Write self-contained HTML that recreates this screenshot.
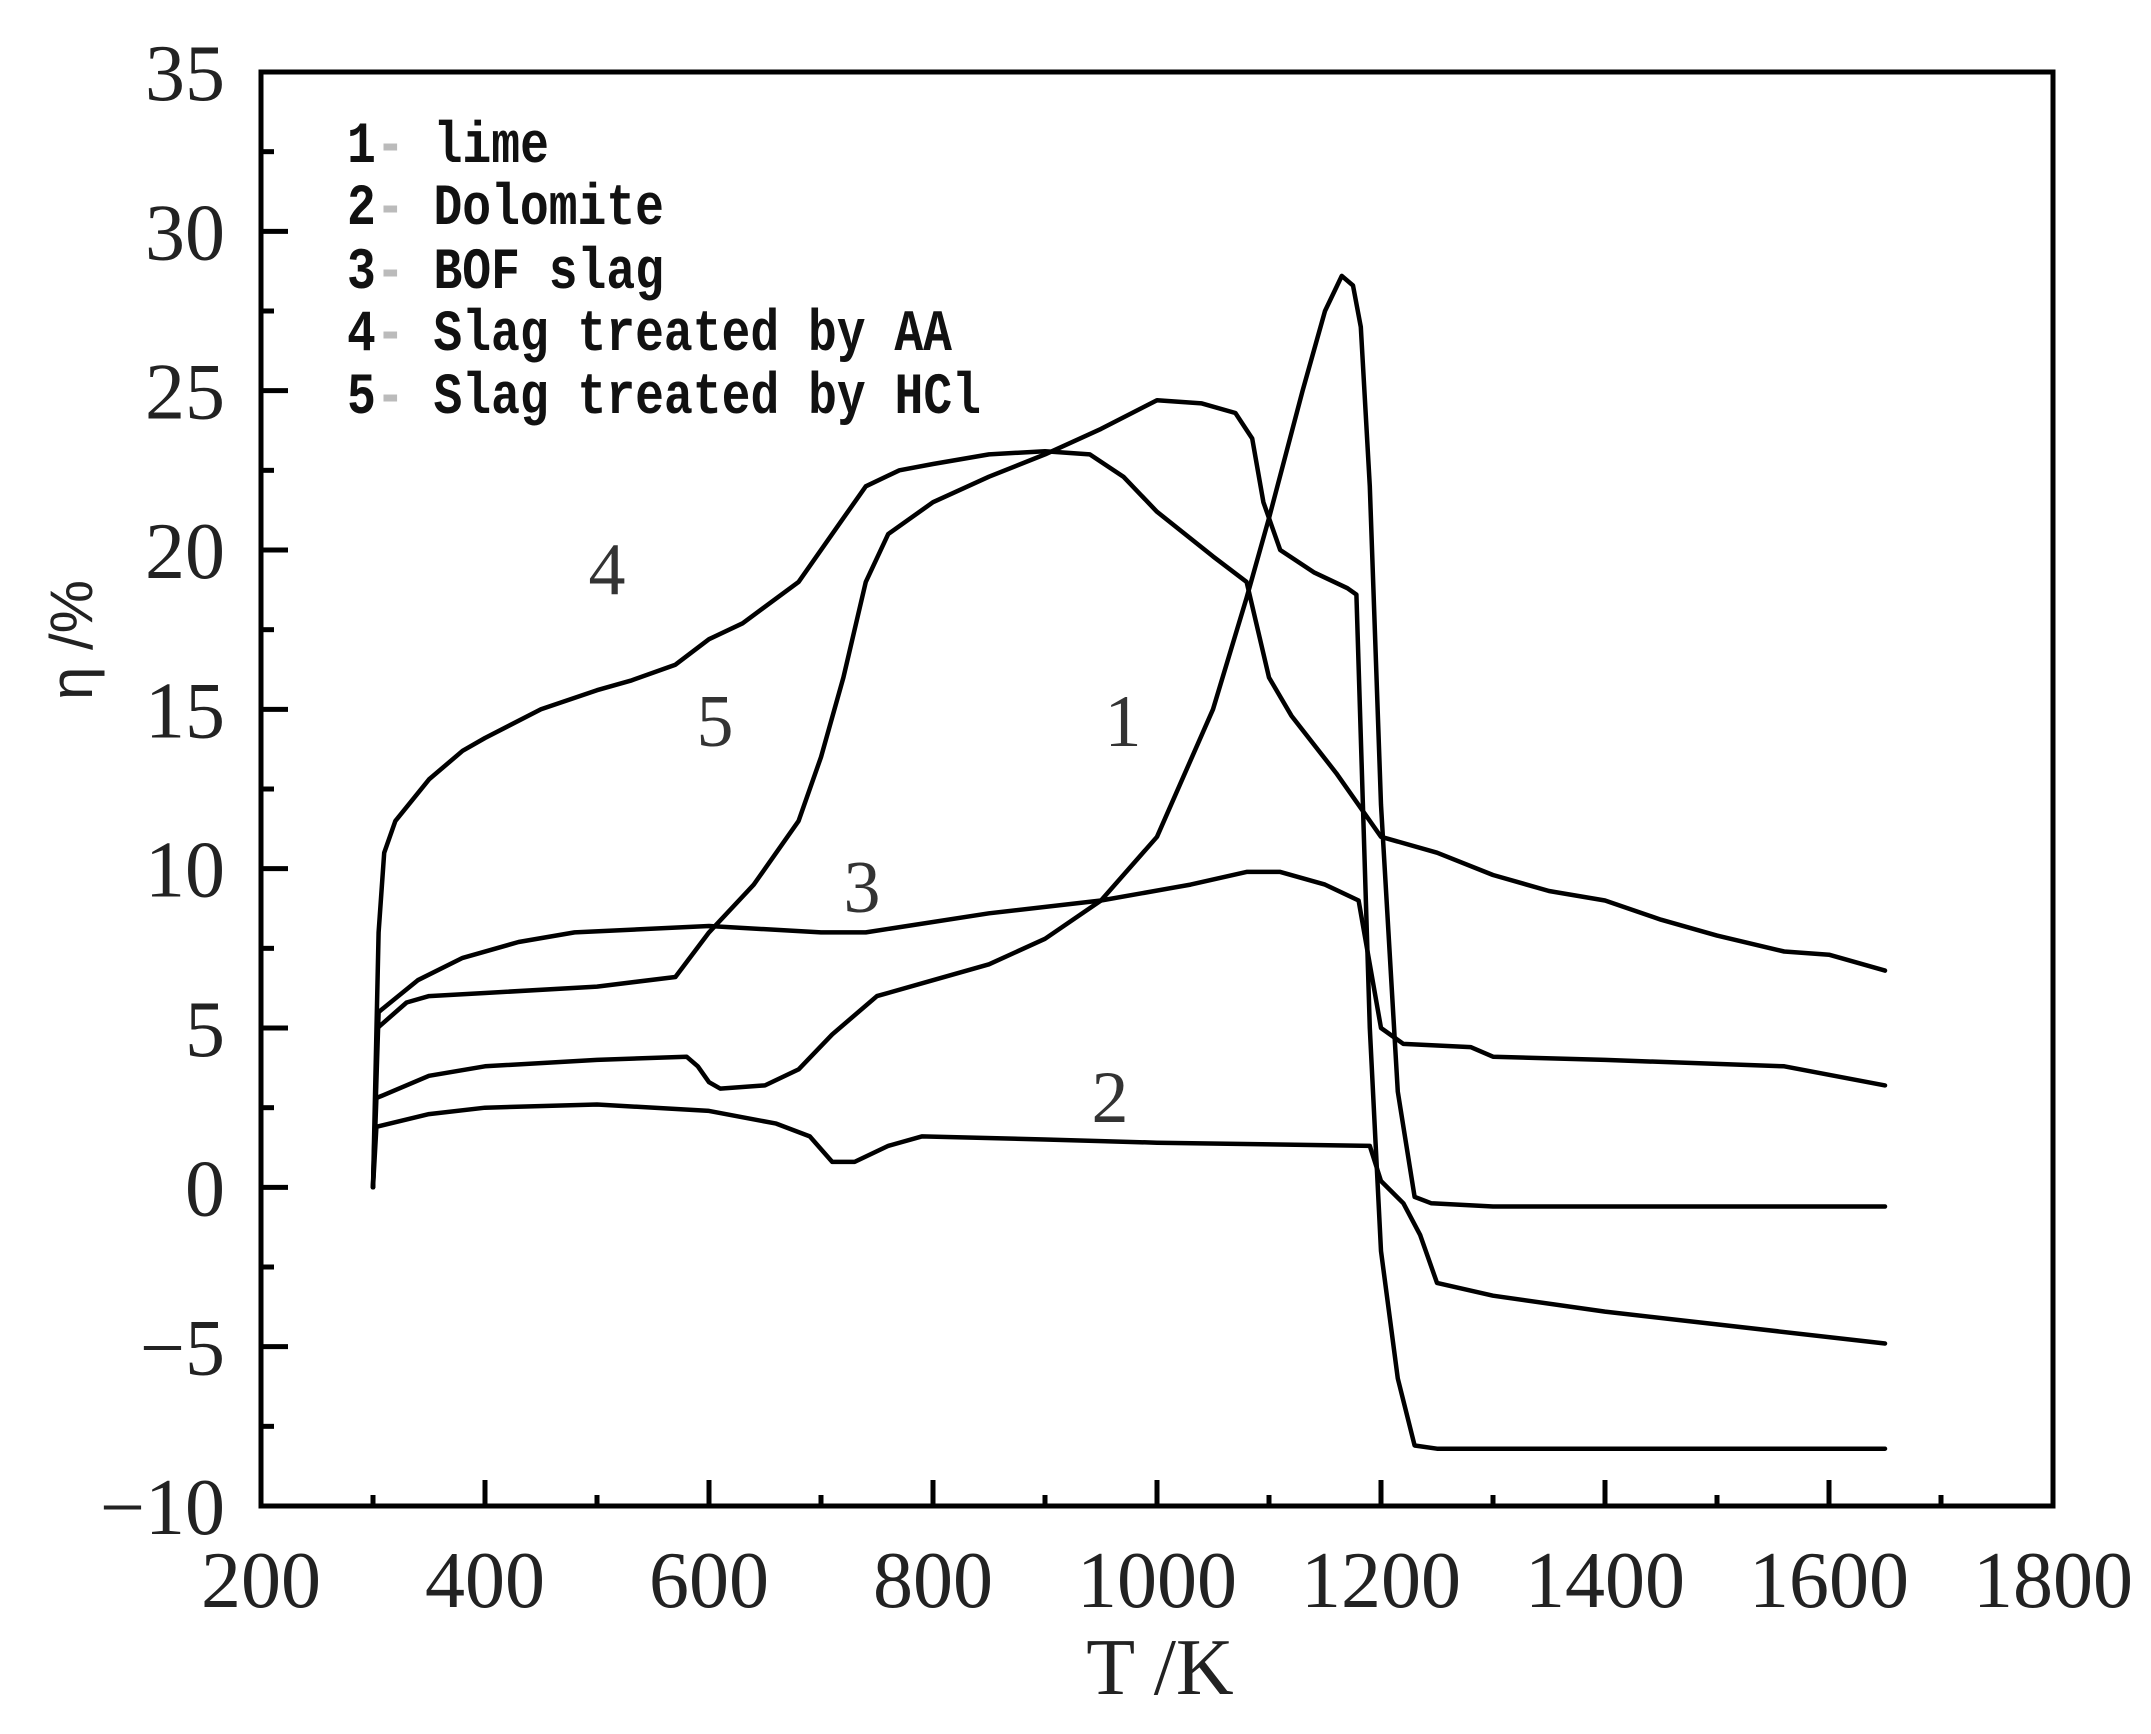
<!DOCTYPE html>
<html><head><meta charset="utf-8"><style>
html,body{margin:0;padding:0;background:#fff;}
svg{display:block;}
</style></head><body>
<svg id="s" width="2151" height="1734" viewBox="0 0 2151 1734" xmlns="http://www.w3.org/2000/svg">
<rect width="2151" height="1734" fill="#fff"/>
<g id="curves" fill="none" stroke="#000" stroke-width="4.5" stroke-linejoin="round" stroke-linecap="round"></g>
<rect x="261" y="72" width="1792" height="1434" fill="none" stroke="#000" stroke-width="5"/>
<g id="ticks" stroke="#000" stroke-width="5"></g>
<g font-family="'Liberation Serif', serif" font-size="80" fill="#222" id="labels"></g>
<g font-family="'Liberation Mono', monospace" font-size="58" fill="#111" font-weight="bold" lengthAdjust="spacingAndGlyphs">
<text x="347" y="162" textLength="202" lengthAdjust="spacingAndGlyphs">1<tspan fill="#bbb">-</tspan> lime</text>
<text x="347" y="224" textLength="317" lengthAdjust="spacingAndGlyphs">2<tspan fill="#bbb">-</tspan> Dolomite</text>
<text x="347" y="288" textLength="317" lengthAdjust="spacingAndGlyphs">3<tspan fill="#bbb">-</tspan> BOF slag</text>
<text x="347" y="350" textLength="605" lengthAdjust="spacingAndGlyphs">4<tspan fill="#bbb">-</tspan> Slag treated by AA</text>
<text x="347" y="413" textLength="634" lengthAdjust="spacingAndGlyphs">5<tspan fill="#bbb">-</tspan> Slag treated by HCl</text>
</g>
<g font-family="'Liberation Serif', serif" font-size="74" fill="#333">
<text x="607" y="594" text-anchor="middle">4</text>
<text x="715" y="746" text-anchor="middle">5</text>
<text x="1123" y="746" text-anchor="middle">1</text>
<text x="862" y="912" text-anchor="middle">3</text>
<text x="1110" y="1122" text-anchor="middle">2</text>
</g>
<text x="1160" y="1694" text-anchor="middle" font-family="'Liberation Serif', serif" font-size="80" fill="#222">T /K</text>
<text transform="translate(92,640) rotate(-90)" text-anchor="middle" font-family="'Liberation Sans', sans-serif" font-size="60" fill="#222">η /%</text>
</svg>
<script>
var NS="http://www.w3.org/2000/svg";
function X(t){return 261+(t-200)*1.12;}
function Y(v){return 72+(35-v)*31.867;}
var data=[
[[300,0],[303,2.8],[350,3.5],[400,3.8],[500,4.0],[580,4.1],[590,3.8],[600,3.3],[610,3.1],[650,3.2],[680,3.7],[710,4.8],[750,6],[800,6.5],[850,7],[900,7.8],[950,9],[1000,11],[1050,15],[1080,18.5],[1100,21],[1130,25],[1150,27.5],[1165,28.6],[1175,28.3],[1182,27],[1190,22],[1200,12],[1215,3],[1230,-0.3],[1245,-0.5],[1300,-0.6],[1650,-0.6]],
[[300,0],[303,1.9],[350,2.3],[400,2.5],[500,2.6],[600,2.4],[660,2.0],[690,1.6],[710,0.8],[730,0.8],[760,1.3],[790,1.6],[900,1.5],[1000,1.4],[1190,1.3],[1200,0.2],[1220,-0.5],[1235,-1.5],[1250,-3],[1300,-3.4],[1400,-3.9],[1500,-4.3],[1650,-4.9]],
[[300,0],[305,5.5],[340,6.5],[380,7.2],[430,7.7],[480,8.0],[600,8.2],[700,8.0],[740,8.0],[850,8.6],[950,9],[1030,9.5],[1080,9.9],[1110,9.9],[1150,9.5],[1180,9],[1190,7],[1200,5],[1220,4.5],[1280,4.4],[1300,4.1],[1400,4],[1560,3.8],[1650,3.2]],
[[300,0],[305,8],[310,10.5],[320,11.5],[350,12.8],[380,13.7],[400,14.1],[450,15],[500,15.6],[530,15.9],[570,16.4],[600,17.2],[630,17.7],[680,19],[720,21],[740,22],[770,22.5],[800,22.7],[850,23],[900,23.1],[940,23],[970,22.3],[1000,21.2],[1050,19.8],[1080,19],[1100,16],[1120,14.8],[1160,13],[1200,11],[1250,10.5],[1300,9.8],[1350,9.3],[1400,9],[1450,8.4],[1500,7.9],[1560,7.4],[1600,7.3],[1650,6.8]],
[[300,0],[304,5],[330,5.8],[350,6],[400,6.1],[500,6.3],[570,6.6],[600,8],[640,9.5],[680,11.5],[700,13.5],[720,16],[740,19],[760,20.5],[800,21.5],[850,22.3],[900,23],[950,23.8],[1000,24.7],[1040,24.6],[1070,24.3],[1085,23.5],[1095,21.5],[1110,20],[1140,19.3],[1170,18.8],[1178,18.6],[1190,5],[1200,-2],[1215,-6],[1230,-8.1],[1250,-8.2],[1650,-8.2]]
];
var g=document.getElementById("curves");
data.forEach(function(c){var d="";c.forEach(function(p,i){d+=(i?"L":"M")+X(p[0]).toFixed(1)+","+Y(p[1]).toFixed(1);});
var p=document.createElementNS(NS,"path");p.setAttribute("d",d);g.appendChild(p);});
var tk=document.getElementById("ticks"),lb=document.getElementById("labels");
function line(x1,y1,x2,y2){var l=document.createElementNS(NS,"line");l.setAttribute("x1",x1);l.setAttribute("y1",y1);l.setAttribute("x2",x2);l.setAttribute("y2",y2);tk.appendChild(l);}
function txt(x,y,s,a){var t=document.createElementNS(NS,"text");t.setAttribute("x",x);t.setAttribute("y",y);t.setAttribute("text-anchor",a);t.textContent=s;lb.appendChild(t);}
for(var t=200;t<=1800;t+=100){var x=X(t);var maj=t%200==0;line(x,1506,x,1506-(maj?26:11));if(maj)txt(x,1607,String(t),"middle");}
for(var v=-10;v<=35;v+=2.5){var y=Y(v);var maj=v%5==0;line(261,y,261+(maj?27:13),y);if(maj)txt(225,y+28,(v<0?"\u2212":"")+Math.abs(v),"end");}
</script>
</body></html>
